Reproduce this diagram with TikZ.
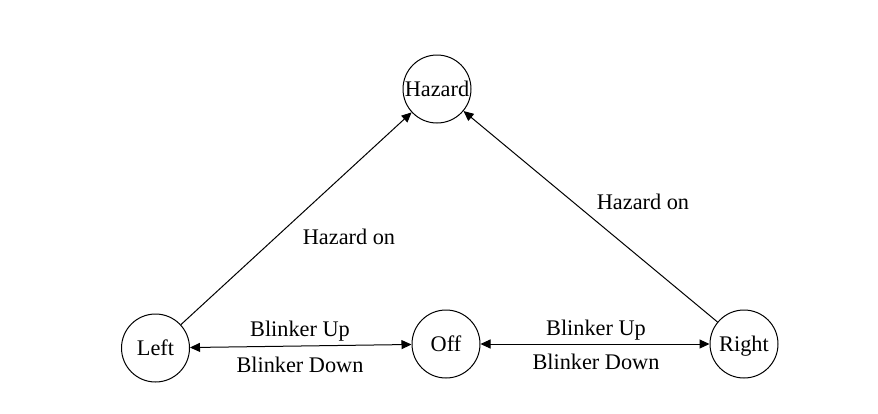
\documentclass[tikz,border=0pt]{standalone}
\usepackage{fontspec}
\setmainfont{Liberation Serif}
\usetikzlibrary{arrows.meta}
\begin{document}
\begin{tikzpicture}[x=1pt,y=-1pt,
  state/.style={draw, circle, line width=1pt, minimum size=68pt, inner sep=0pt, text height=16pt, text depth=1pt, font=\fontsize{22.3}{26}\selectfont},
  lbl/.style={font=\fontsize{22.3}{26}\selectfont, inner sep=0pt, text height=16pt, text depth=1pt},
  conn/.style={line width=1pt, -{Triangle[length=10pt,width=9pt]}},
  both/.style={line width=1pt, {Triangle[length=10pt,width=9pt]}-{Triangle[length=10pt,width=9pt]}}]
\useasboundingbox (0,0) rectangle (878,413);
\node[state] (hazard) at (437,89) {Hazard};
\node[state] (left) at (155.5,348) {Left};
\node[state] (off) at (446,344) {Off};
\node[state] (right) at (744,344) {Right};
\draw[conn] (left) -- (hazard);
\draw[conn] (right) -- (hazard);
\draw[both] (left) -- (off);
\draw[both] (off) -- (right);
\node[lbl] (l1) at (349,237) {Hazard on};
\node[lbl] (l2) at (643,202) {Hazard on};
\node[lbl] (l3) at (300,329) {Blinker Up};
\node[lbl] (l4) at (300,365) {Blinker Down};
\node[lbl] (l5) at (596,328) {Blinker Up};
\node[lbl] (l6) at (596,362) {Blinker Down};
\end{tikzpicture}
\end{document}
